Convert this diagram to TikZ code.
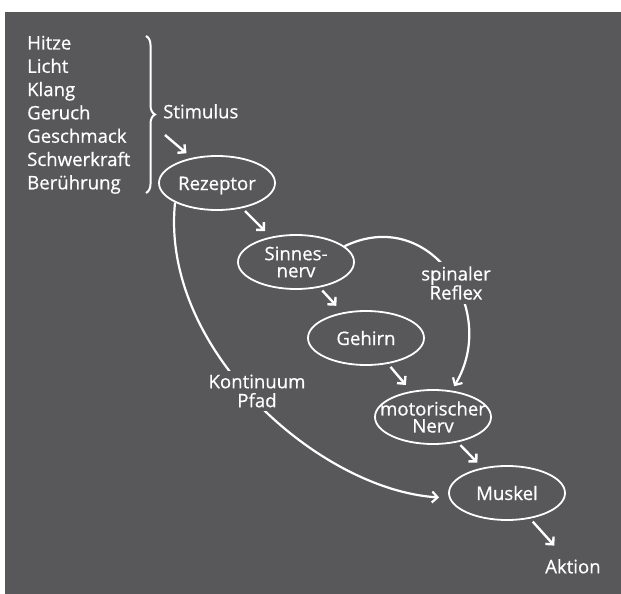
\documentclass[tikz,border=0pt]{standalone}
\usepackage{fontspec}
\setmainfont{Open Sans}[BoldFont={Open Sans}, BoldFeatures={FakeBold=0.6}]
\usetikzlibrary{shapes.geometric,arrows.meta,decorations.pathreplacing}
\definecolor{bg}{HTML}{58585A}
\begin{document}
\begin{tikzpicture}[x=1pt,y=-1pt,
  every node/.style={text=white, font=\fontsize{18.6}{17}\selectfont\bfseries, inner sep=0pt},
  ell/.style={draw=white, line width=1.8pt, ellipse, minimum width=116pt, minimum height=54pt, align=center},
  ellone/.style={ell, text height=14pt, text depth=0pt},
  arr/.style={draw=white, line width=2.4pt, -{Straight Barb[length=5.5pt,width=11pt]}},
  curve/.style={draw=white, line width=2.2pt, -{Straight Barb[length=5.5pt,width=11pt]}},
  lbl/.style={align=center, fill=bg, inner sep=4pt, font=\fontsize{18.6}{19}\selectfont\bfseries}]
\useasboundingbox (0,0) rectangle (621,594);
\fill[bg] (5,12) rectangle (621,594);
% list of stimuli
\foreach \w [count=\i] in {Hitze,Licht,Klang,Geruch,Geschmack,Schwerkraft,Berührung}
  \node[anchor=base west] (s\i) at (27,{49.5+23.3*(\i-1)}) {\w};
\draw[white, line width=2pt, decorate, decoration={brace, amplitude=9pt}] (146,36) -- (146,193);
\node[anchor=base west] (stim) at (163,118.3) {Stimulus};
\coordinate (s0) at (165,135);
% ellipses
\node[ellone] (rez) at (217,183) {Rezeptor};
\node[ell] (sinn) at (296,262) {Sinnes-\\nerv};
\node[ellone] (geh) at (366,338) {Gehirn};
\node[ell] (mot) at (433,417) {\makebox[0pt]{motorischer}\\Nerv};
\node[ellone] (musk) at (507,493) {Muskel};
\node[anchor=base west] (akt) at (545,573.3) {Aktion};
% straight arrows
\draw[arr, shorten >=7pt] (s0) -- (rez.135);
\draw[arr, shorten <=4pt, shorten >=8pt] (rez) -- (sinn);
\draw[arr, shorten <=4pt, shorten >=9pt] (sinn) -- (geh);
\draw[arr, shorten <=4pt, shorten >=8pt] (geh) -- (mot);
\draw[arr, shorten <=4pt, shorten >=7pt] (mot) -- (musk);
\draw[arr, shorten <=4pt, shorten >=18pt] (musk) -- (akt);
% curved paths
\draw[curve, shorten >=10pt] (rez.205) .. controls (160,350) and (320,490) .. (musk.185);
\draw[curve, shorten >=5pt] (sinn.18) .. controls (430,205) and (500,310) .. (mot.55);
\node[lbl] (kp) at (257,391) {Kontinuum\\Pfad};
\node[lbl] (sr) at (456,283) {spinaler\\Reflex};
\end{tikzpicture}
\end{document}
